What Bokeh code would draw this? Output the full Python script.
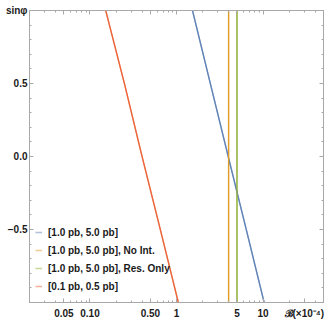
from bokeh.plotting import figure
from bokeh.models import (FixedTicker, LogAxis, LinearAxis, Legend, LegendItem,
                          CustomJSTickFormatter)
from bokeh.embed import file_html
from bokeh.resources import INLINE

# ---- data ----
sin_phi = [-1.0, -0.5, 0.0, 0.5, 1.0]
B_blue = [10.3, 6.4, 3.96, 2.46, 1.53]      # [1.0 pb, 5.0 pb]
B_orange = [4.0, 4.0]                          # [1.0 pb, 5.0 pb], No Int.
B_green = [5.0, 5.0]                           # [1.0 pb, 5.0 pb], Res. Only
sin_vert = [-1.0, 1.0]
B_red = [1.05, 0.65, 0.40, 0.25, 0.152]       # [0.1 pb, 0.5 pb]

labels = ["[1.0 pb, 5.0 pb]", "[1.0 pb, 5.0 pb], No Int.",
          "[1.0 pb, 5.0 pb], Res. Only", "[0.1 pb, 0.5 pb]"]
colors = ["#5E81B5", "#E19C24", "#8FB032", "#EB6235"]

x_tick_values = [0.05, 0.1, 0.5, 1, 5, 10, 30]
x_tick_labels = ["0.05", "0.10", "0.50", "1", "5", "10", "\u212c(\u00d710\u207b\u2074)"]
x_minor = [m * 10.0 ** e for e in range(-2, 2) for m in range(1, 10)]
y_tick_values = [-1.0, -0.5, 0.0, 0.5, 1.0]
y_tick_labels = ["", "\u22120.5", "0.0", "0.5", "sin\u03c6"]
y_minor = [i / 10 for i in range(-10, 11)]

FRAME = "#a8a8a8"
TXT = "#1a1a1a"

p = figure(width=332, height=324, x_axis_type="log", x_range=(0.02, 50),
           y_range=(-1, 1), output_backend="svg", toolbar_location=None,
           min_border_left=29, min_border_right=9, min_border_top=10,
           min_border_bottom=22)
p.grid.visible = False
p.outline_line_color = FRAME

series = [(B_blue, sin_phi), (B_orange, sin_vert), (B_green, sin_vert), (B_red, sin_phi)]

# pale legend swatches (drawn underneath the real lines)
swatches = [p.line(xs, ys, color=c, line_width=1.5, line_alpha=0.5)
            for (xs, ys), c in zip(series, colors)]
lines = [p.line(xs, ys, color=c, line_width=1.2) for (xs, ys), c in zip(series, colors)]

fmt_code = """
for (let i = 0; i < vals.length; i++) {
  if (Math.abs(tick - vals[i]) < 1e-9 * Math.max(1, Math.abs(vals[i]))) return labs[i];
}
return '';
"""
xfmt = CustomJSTickFormatter(args=dict(vals=x_tick_values, labs=x_tick_labels), code=fmt_code)
yfmt = CustomJSTickFormatter(args=dict(vals=y_tick_values, labs=y_tick_labels), code=fmt_code)
blank = CustomJSTickFormatter(code="return '';")

def style(ax, show):
    ax.axis_line_color = FRAME
    ax.major_tick_line_color = FRAME
    ax.minor_tick_line_color = FRAME
    ax.major_tick_in = 4
    ax.major_tick_out = 0
    ax.minor_tick_in = 2
    ax.minor_tick_out = 0
    ax.major_label_text_color = TXT
    ax.major_label_text_font = "Liberation Sans"
    ax.major_label_text_font_size = "10px" if show else "0px"
    ax.major_label_text_font_style = "bold"

p.xaxis.ticker = FixedTicker(ticks=x_tick_values, minor_ticks=x_minor)
p.xaxis.formatter = xfmt
style(p.xaxis[0], True)
p.xaxis.major_label_standoff = 5
p.yaxis.ticker = FixedTicker(ticks=y_tick_values, minor_ticks=y_minor)
p.yaxis.formatter = yfmt
style(p.yaxis[0], True)
p.yaxis.major_label_standoff = 2

top = LogAxis(ticker=FixedTicker(ticks=x_tick_values[:-1], minor_ticks=x_minor), formatter=blank)
style(top, False)
p.add_layout(top, "above")
right = LinearAxis(ticker=FixedTicker(ticks=y_tick_values, minor_ticks=y_minor), formatter=blank)
style(right, False)
p.add_layout(right, "right")

lg = Legend(items=[LegendItem(label=l, renderers=[s]) for l, s in zip(labels, swatches)])
lg.location = (6, 10)
lg.border_line_alpha = 0
lg.background_fill_alpha = 0
lg.padding = 0
lg.margin = 0
lg.spacing = 6
lg.label_height = 12
lg.glyph_height = 12
lg.glyph_width = 7
lg.label_standoff = 6
lg.label_text_font = "Liberation Sans"
lg.label_text_font_size = "10px"
lg.label_text_font_style = "bold"
lg.label_text_color = TXT
p.add_layout(lg, "center")

open("out.html", "w").write(file_html(p, INLINE))
